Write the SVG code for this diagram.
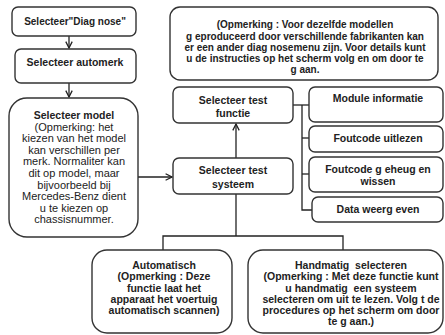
<svg xmlns="http://www.w3.org/2000/svg" width="445" height="335" viewBox="0 0 445 335">
<defs>
<marker id="arr" viewBox="0 0 10 10" refX="9" refY="5" markerWidth="8" markerHeight="8" orient="auto" markerUnits="userSpaceOnUse">
<polyline points="1,1 9,5 1,9" fill="none" stroke="#222" stroke-width="1.6"/>
</marker>
</defs>
<style>
.box{fill:#fff;stroke:#333;stroke-width:1.4}
.t{font-family:"Liberation Sans",Arial,sans-serif;font-size:10.5px;font-weight:bold;fill:#222;text-anchor:middle}
.n{font-size:10px}
.r{font-family:"Liberation Sans",Arial,sans-serif;font-size:11px;fill:#222;text-anchor:middle}
.c{fill:none;stroke:#222;stroke-width:1.3}
</style>
<rect width="445" height="335" fill="#fff"/>
<g id="connectors">
<line class="c" x1="69" y1="36" x2="69" y2="48" marker-end="url(#arr)"/>
<line class="c" x1="69" y1="83" x2="69" y2="97" marker-end="url(#arr)"/>
<line class="c" x1="138" y1="177" x2="172" y2="177" marker-end="url(#arr)"/>
<line class="c" x1="236" y1="158" x2="236" y2="124" marker-end="url(#arr)"/>
<polyline class="c" points="293,105 309,105"/>
<polyline class="c" points="302,105 302,210 312,210"/>
<line class="c" x1="302" y1="138" x2="309" y2="138"/>
<line class="c" x1="302" y1="174" x2="309" y2="174"/>
<polyline class="c" points="236,194 236,236"/>
<polyline class="c" points="163,250 163,236 343,236 343,250"/>
</g>
<g id="diagnose">
<rect class="box" x="12" y="7" width="124" height="29" rx="6"/>
<text class="t n" x="75" y="25">Selecteer"Diag nose"</text>
</g>
<g id="automerk">
<rect class="box" x="15" y="49" width="121" height="34" rx="6"/>
<text class="t" x="75" y="66">Selecteer automerk</text>
</g>
<g id="model">
<rect class="box" x="9" y="98" width="129" height="139" rx="18"/>
<text class="t" x="74" y="118.5">Selecteer model</text>
<text class="r" x="74" y="130.5">(Opmerking: het</text>
<text class="r" x="74" y="142">kiezen van het model</text>
<text class="r" x="74" y="153.5">kan verschillen per</text>
<text class="r" x="74" y="165">merk. Normaliter kan</text>
<text class="r" x="74" y="176.5">dit op model, maar</text>
<text class="r" x="74" y="188.5">bijvoorbeeld bij</text>
<text class="r" x="74" y="200">Mercedes-Benz dient</text>
<text class="r" x="74" y="211.5">u te kiezen op</text>
<text class="r" x="74" y="223">chassisnummer.</text>
</g>
<g id="opmerking">
<rect class="box" x="170" y="7" width="268" height="73" rx="10"/>
<text class="t n" x="305" y="28">(Opmerking : Voor dezelfde modellen</text>
<text class="t n" x="305" y="39.5">g eproduceerd door verschillende fabrikanten kan</text>
<text class="t n" x="305" y="51">er een ander diag nosemenu zijn. Voor details kunt</text>
<text class="t n" x="305" y="62">u de instructies op het scherm volg en om door te</text>
<text class="t n" x="305" y="73">g aan.</text>
</g>
<g id="testfunctie">
<rect class="box" x="173" y="87" width="120" height="36" rx="6"/>
<text class="t" x="233" y="104">Selecteer test</text>
<text class="t" x="233" y="117">functie</text>
</g>
<g id="testsysteem">
<rect class="box" x="173" y="158" width="120" height="36" rx="6"/>
<text class="t" x="233" y="174">Selecteer test</text>
<text class="t" x="233" y="188">systeem</text>
</g>
<g id="module">
<rect class="box" x="309" y="87" width="134" height="35" rx="6"/>
<text class="t" x="378" y="102">Module informatie</text>
</g>
<g id="uitlezen">
<rect class="box" x="309" y="126" width="134" height="26" rx="6"/>
<text class="t" x="378" y="142">Foutcode uitlezen</text>
</g>
<g id="wissen">
<rect class="box" x="309" y="157" width="134" height="35" rx="6"/>
<text class="t" x="378" y="173">Foutcode g eheug en</text>
<text class="t" x="378" y="185">wissen</text>
</g>
<g id="data">
<rect class="box" x="312" y="197" width="131" height="25" rx="6"/>
<text class="t" x="378" y="213">Data weerg even</text>
</g>
<g id="automatisch">
<rect class="box" x="92" y="250" width="140" height="83" rx="15"/>
<text class="t" x="164" y="269">Automatisch</text>
<text class="t" x="164" y="280">(Opmerking : Deze</text>
<text class="t" x="164" y="292">functie laat het</text>
<text class="t" x="164" y="303">apparaat het voertuig</text>
<text class="t" x="164" y="314">automatisch scannen)</text>
</g>
<g id="handmatig">
<rect class="box" x="248" y="250" width="195" height="83" rx="15"/>
<text class="t" x="351" y="269" xml:space="preserve">Handmatig  selecteren</text>
<text class="t" x="351" y="280">(Opmerking : Met deze functie kunt</text>
<text class="t" x="351" y="292" xml:space="preserve">u handmatig  een systeem</text>
<text class="t" x="351" y="303">selecteren om uit te lezen. Volg t de</text>
<text class="t" x="351" y="314">procedures op het scherm om door</text>
<text class="t" x="351" y="325">te g aan.)</text>
</g>
</svg>
